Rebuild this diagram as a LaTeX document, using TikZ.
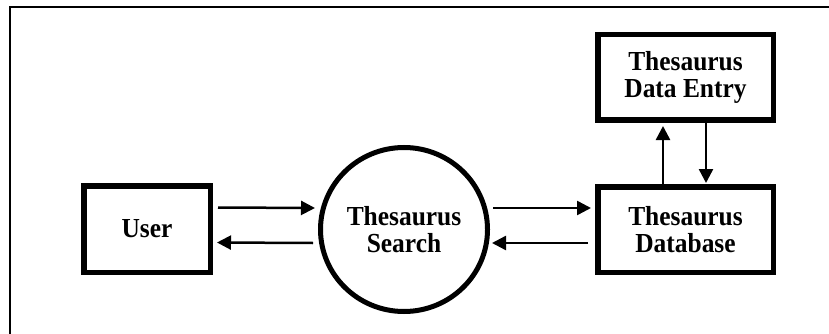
\documentclass[tikz,border=0pt]{standalone}
\usepackage{fontspec}
\setmainfont{Liberation Serif}
\newfontfamily\labelfont[FakeStretch=0.925]{Liberation Serif}
\usetikzlibrary{arrows.meta,shapes.geometric}
\begin{document}
\begin{tikzpicture}[x=1pt,y=-1pt,
  txt/.style={font=\labelfont\bfseries\fontsize{27.5}{27.7}\selectfont,align=center,inner sep=0pt},
  boxnode/.style={txt,draw,line width=5.5pt,rectangle},
  procnode/.style={txt,draw,line width=5pt,ellipse,minimum width=167pt,minimum height=164pt},
  arr/.style={line width=2.5pt,-{Triangle[length=14pt,width=14pt]}},
  frame/.style={line width=2pt}]
\useasboundingbox (0,0) rectangle (829,334);
\draw[frame] (10,334) -- (10,7) -- (830,7);
\node[boxnode,minimum width=126.5pt,minimum height=86.5pt] (user) at (147,229) {User};
\node[procnode] (search) at (404,229.5) {Thesaurus\\Search};
\node[boxnode,minimum width=175.5pt,minimum height=85.5pt] (db) at (685.5,229.5) {Thesaurus\\Database};
\node[boxnode,minimum width=175.5pt,minimum height=85.5pt] (entry) at (685.5,77.5) {Thesaurus\\Data Entry};
% user <-> search
\draw[arr] ([xshift=5pt,yshift=21.5pt]user.east) -- ([xshift=-3pt,yshift=21.5pt]search.west);
\draw[arr] ([xshift=-5pt,yshift=-13.5pt]search.west) -- ([xshift=4pt,yshift=-13.5pt]user.east);
% search <-> db
\draw[arr] ([xshift=3pt,yshift=21.5pt]search.east) -- ([xshift=-4pt,yshift=21.5pt]db.west);
\draw[arr] ([xshift=-7pt,yshift=-13.5pt]db.west) -- ([xshift=2pt,yshift=-13.5pt]search.east);
% db <-> entry
\draw[arr] ([xshift=-22.5pt]db.north) -- ([xshift=-22.5pt,yshift=-3pt]entry.south);
\draw[arr] ([xshift=20.5pt]entry.south) -- ([xshift=20.5pt,yshift=1pt]db.north);
\end{tikzpicture}
\end{document}
